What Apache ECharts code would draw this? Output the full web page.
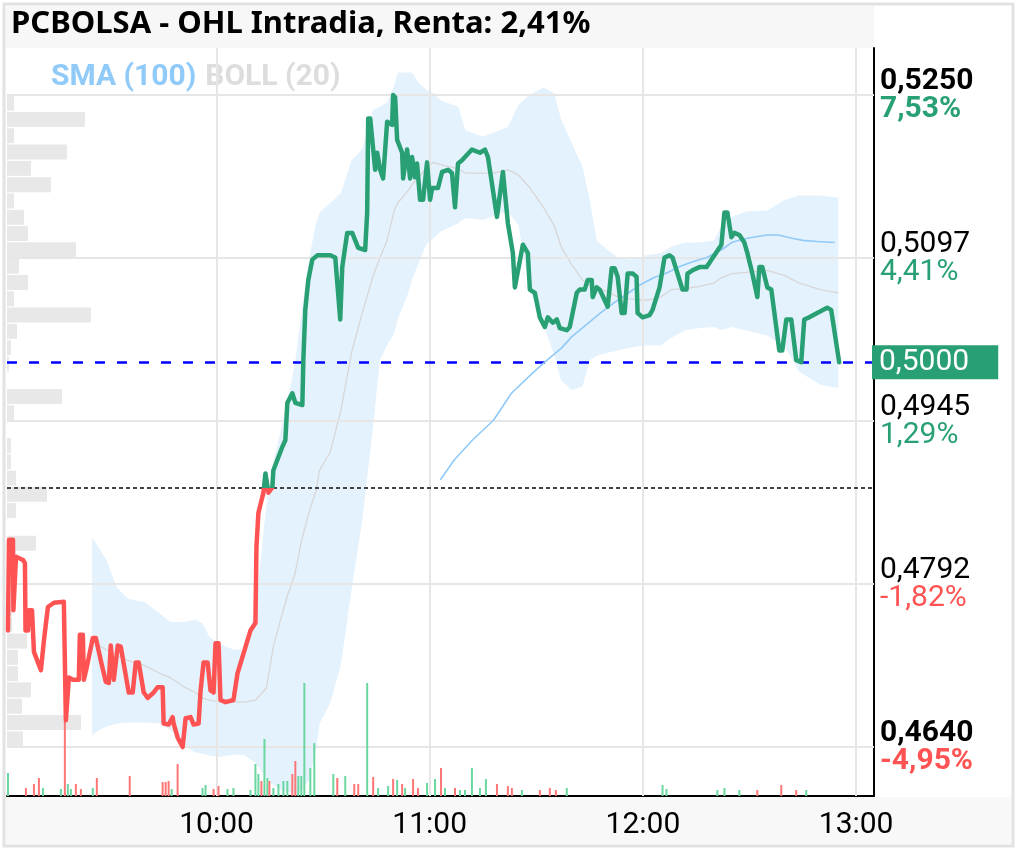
<!DOCTYPE html>
<html>
<head>
<meta charset="utf-8">
<title>PCBOLSA - OHL Intradia</title>
<script src="https://cdn.jsdelivr.net/npm/echarts@6/dist/echarts.min.js"></script>
<style>
html,body{margin:0;padding:0;background:#fff;}
#main{width:1017px;height:851px;}
</style>
</head>
<body>
<div id="main"></div>
<script>
// cotizaciones intradia
const priceTimes = ['09:01:19','09:01:36','09:02:43','09:02:50','09:03:00','09:03:34','09:05:32','09:06:05','09:06:15','09:06:56','09:07:13','09:08:04','09:08:37','09:10:35','09:11:26','09:12:33','09:14:14','09:17:02','09:17:36','09:18:27','09:19:34','09:21:15','09:21:32','09:22:23','09:22:40','09:23:30','09:25:11','09:26:02','09:27:26','09:28:50','09:29:41','09:30:14','09:31:05','09:32:13','09:33:03','09:35:18','09:36:25','09:37:16','09:38:06','09:39:31','09:40:38','09:42:19','09:43:26','09:44:50','09:45:07','09:46:31','09:47:39','09:47:56','09:49:03','09:50:28','09:51:18','09:52:42','09:53:33','09:54:57','09:55:31','09:56:21','09:57:29','09:58:19','09:59:10','09:59:43','10:00:34','10:01:07','10:02:32','10:04:46','10:05:54','10:09:33','10:10:57','10:11:14','10:11:47','10:13:12','10:13:46','10:14:19','10:14:36','10:15:43','10:16:00','10:18:32','10:19:22','10:19:56','10:21:20','10:22:11','10:24:09','10:24:26','10:24:59','10:25:50','10:26:57','10:28:22','10:32:01','10:33:25','10:34:49','10:35:23','10:36:47','10:38:11','10:39:53','10:41:50','10:42:24','10:42:41','10:43:15','10:44:39','10:45:13','10:46:03','10:46:53','10:48:01','10:49:25','10:49:42','10:50:16','10:50:50','10:52:14','10:52:31','10:53:38','10:54:29','10:55:02','10:55:53','10:56:26','10:57:17','10:58:08','10:59:15','11:00:06','11:00:40','11:02:20','11:03:28','11:05:09','11:06:16','11:07:07','11:07:58','11:09:05','11:11:53','11:14:08','11:15:32','11:16:23','11:18:55','11:20:36','11:22:00','11:23:24','11:23:58','11:26:13','11:27:37','11:28:11','11:29:35','11:30:59','11:32:23','11:33:14','11:34:38','11:35:46','11:36:36','11:38:34','11:39:25','11:41:23','11:42:13','11:43:37','11:44:28','11:45:35','11:45:52','11:46:59','11:47:50','11:49:14','11:50:05','11:51:12','11:52:03','11:52:53','11:54:01','11:54:51','11:55:42','11:57:06','11:58:13','11:58:30','11:59:55','12:01:52','12:02:43','12:04:41','12:06:05','12:07:29','12:08:20','12:09:44','12:11:08','12:12:16','12:12:32','12:13:57','12:15:55','12:17:53','12:18:43','12:20:41','12:22:05','12:22:56','12:23:47','12:24:54','12:25:45','12:27:09','12:28:33','12:29:24','12:30:48','12:32:12','12:32:46','12:33:36','12:35:01','12:36:08','12:38:23','12:39:13','12:40:21','12:41:45','12:43:09','12:44:33','12:45:24','12:46:48','12:51:51','12:52:59','12:55:14'];
const prices = [0.4749,0.4834,0.4834,0.4768,0.4768,0.4818,0.4815,0.4812,0.4749,0.4749,
  0.4768,0.4768,0.4729,0.4712,0.4740,0.4771,0.4775,0.4776,0.4665,0.4705,
  0.4703,0.4703,0.4745,0.4745,0.4703,0.4715,0.4742,0.4742,0.4721,0.4701,
  0.4700,0.4735,0.4703,0.4735,0.4734,0.4691,0.4691,0.4719,0.4719,0.4691,
  0.4686,0.4691,0.4696,0.4696,0.4662,0.4661,0.4668,0.4662,0.4649,0.4640,
  0.4667,0.4668,0.4661,0.4662,0.4693,0.4719,0.4719,0.4693,0.4691,0.4737,
  0.4737,0.4684,0.4682,0.4684,0.4709,0.4749,0.4756,0.4827,0.4859,0.4878,
  0.4896,0.4896,0.4878,0.4883,0.4899,0.4921,0.4927,0.4962,0.4971,0.4962,
  0.4960,0.5002,0.5049,0.5077,0.5096,0.5100,0.5100,0.5098,0.5040,0.5089,
  0.5121,0.5121,0.5107,0.5105,0.5140,0.5228,0.5228,0.5180,0.5196,0.5180,
  0.5172,0.5225,0.5222,0.5250,0.5248,0.5208,0.5196,0.5172,0.5199,0.5172,
  0.5192,0.5173,0.5186,0.5152,0.5152,0.5187,0.5152,0.5163,0.5163,0.5178,
  0.5180,0.5177,0.5145,0.5186,0.5189,0.5199,0.5196,0.5199,0.5192,0.5136,
  0.5178,0.5130,0.5102,0.5070,0.5110,0.5102,0.5068,0.5065,0.5042,0.5033,
  0.5042,0.5037,0.5040,0.5032,0.5030,0.5033,0.5065,0.5068,0.5068,0.5077,
  0.5077,0.5061,0.5070,0.5068,0.5058,0.5052,0.5088,0.5088,0.5080,0.5046,
  0.5046,0.5083,0.5083,0.5080,0.5046,0.5042,0.5044,0.5049,0.5070,0.5098,
  0.5100,0.5098,0.5083,0.5068,0.5068,0.5083,0.5086,0.5089,0.5089,0.5093,
  0.5103,0.5110,0.5140,0.5140,0.5117,0.5121,0.5119,0.5112,0.5102,0.5083,
  0.5061,0.5089,0.5089,0.5070,0.5068,0.5011,0.5011,0.5040,0.5040,0.5002,
  0.5000,0.5040,0.5042,0.5051,0.5049,0.5000];

// bandas de Bollinger (20)
const bollTimes = ['09:25','09:27','09:29','09:32','09:35','09:40','09:44','09:47','09:51','09:54',
  '09:56','09:58','10:01','10:05','10:08','10:11','10:14','10:16','10:18','10:20',
  '10:22','10:24','10:26','10:28','10:29','10:32','10:35','10:38','10:41','10:44',
  '10:46','10:48','10:50','10:51','10:54','10:55','10:57','10:59','11:01','11:03',
  '11:08','11:10','11:15','11:18','11:22','11:25','11:28','11:32','11:35','11:37',
  '11:40','11:43','11:45','11:47','11:50','11:53','11:57','12:01','12:05','12:08',
  '12:12','12:16','12:20','12:22','12:25','12:29','12:35','12:40','12:44','12:50','12:55'];
const bollUpper = [0.4836,0.4826,0.4815,0.4789,0.4779,0.4775,0.4765,0.4757,0.4757,0.4759,
  0.4756,0.4743,0.4736,0.4731,0.4731,0.4768,0.4866,0.4907,0.4935,0.4965,
  0.4997,0.5049,0.5096,0.5130,0.5140,0.5149,0.5158,0.5189,0.5199,0.5236,
  0.5239,0.5243,0.5259,0.5271,0.5271,0.5271,0.5261,0.5255,0.5252,0.5245,
  0.5239,0.5217,0.5211,0.5215,0.5220,0.5241,0.5250,0.5257,0.5252,0.5227,
  0.5205,0.5183,0.5152,0.5114,0.5105,0.5098,0.5096,0.5100,0.5102,0.5108,
  0.5112,0.5112,0.5114,0.5127,0.5136,0.5141,0.5142,0.5152,0.5156,0.5156,0.5154];
const bollMid = [0.4740,0.4735,0.4731,0.4726,0.4721,0.4716,0.4709,0.4705,0.4696,0.4691,
  0.4686,0.4684,0.4682,0.4682,0.4682,0.4684,0.4695,0.4734,0.4759,0.4782,
  0.4801,0.4834,0.4859,0.4880,0.4899,0.4916,0.4955,0.5009,0.5046,0.5080,
  0.5098,0.5114,0.5142,0.5149,0.5161,0.5166,0.5173,0.5182,0.5187,0.5185,
  0.5181,0.5177,0.5177,0.5177,0.5180,0.5175,0.5164,0.5145,0.5128,0.5108,
  0.5091,0.5077,0.5072,0.5069,0.5066,0.5061,0.5059,0.5058,0.5061,0.5068,
  0.5069,0.5071,0.5074,0.5079,0.5083,0.5084,0.5086,0.5081,0.5074,0.5068,0.5065];
const bollLower = [0.4651,0.4656,0.4659,0.4662,0.4663,0.4663,0.4662,0.4656,0.4642,0.4635,
  0.4634,0.4632,0.4631,0.4633,0.4632,0.4625,0.4611,0.4604,0.4600,0.4598,
  0.4597,0.4599,0.4609,0.4637,0.4662,0.4681,0.4717,0.4787,0.4852,0.4939,
  0.5002,0.5016,0.5027,0.5040,0.5065,0.5077,0.5094,0.5110,0.5116,0.5122,
  0.5130,0.5135,0.5133,0.5137,0.5141,0.5128,0.5068,0.5035,0.5007,0.4983,
  0.4974,0.4977,0.5002,0.5006,0.5009,0.5011,0.5014,0.5016,0.5016,0.5023,
  0.5030,0.5032,0.5033,0.5030,0.5033,0.5030,0.5025,0.5014,0.4991,0.4979,0.4976];

// media simple (100)
const smaTimes = ['11:03','11:07','11:12','11:18','11:23','11:29','11:33','11:37','11:40','11:44',
  '11:48','11:52','11:56','11:59','12:03','12:07','12:10','12:14','12:18','12:22',
  '12:25','12:28','12:31','12:35','12:38','12:42','12:45','12:49','12:54'];
const smaValues = [0.4890,0.4909,0.4927,0.4946,0.4971,0.4990,0.5002,0.5013,0.5024,0.5035,
  0.5046,0.5056,0.5065,0.5072,0.5079,0.5084,0.5089,0.5094,0.5098,0.5105,
  0.5112,0.5115,0.5117,0.5119,0.5119,0.5116,0.5114,0.5113,0.5112];

// volumen por operacion (1 = alcista, -1 = bajista)
const volTimes = ['09:01:19','09:06:22','09:08:37','09:10:01','09:11:09','09:16:12','09:17:19','09:18:10','09:19:01','09:20:25',
  '09:21:49','09:25:11','09:26:19','09:35:34','09:44:50','09:45:41','09:46:31','09:47:22','09:49:03','09:56:04',
  '09:56:55','09:59:10','10:00:34','10:03:05','10:04:46','10:09:33','10:10:57','10:11:47','10:12:38','10:13:29',
  '10:14:19','10:14:53','10:16:00','10:17:25','10:18:49','10:19:56','10:21:20','10:22:11','10:23:01','10:23:52',
  '10:24:43','10:26:24','10:27:31','10:32:52','10:33:59','10:36:14','10:38:46','10:39:53','10:42:24','10:44:05',
  '10:45:29','10:48:18','10:49:42','10:50:50','10:52:14','10:53:04','10:55:19','10:56:43','10:59:15','11:01:30',
  '11:03:11','11:04:18','11:07:07','11:08:31','11:09:56','11:11:53','11:14:08','11:15:49','11:18:55','11:22:00',
  '11:23:07','11:25:56','11:30:59','11:33:48','11:35:29','11:38:34','12:05:31','12:06:38','12:20:57','12:22:56',
  '12:27:09','12:32:12','12:38:56','12:43:09','12:45:58'];
const volumes = [46000,16000,24000,36000,16000,14000,150000,24000,14000,24000,
  14000,16000,36000,40000,28000,28000,30000,14000,64000,16000,
  22000,14000,20000,14000,16000,12000,64000,44000,30000,114000,
  36000,30000,16000,24000,30000,30000,44000,70000,40000,40000,
  226000,56000,106000,44000,36000,40000,24000,24000,226000,38000,
  16000,20000,34000,32000,24000,16000,34000,16000,26000,34000,
  56000,16000,16000,12000,12000,56000,16000,34000,24000,20000,
  16000,12000,12000,16000,12000,16000,22000,14000,12000,16000,
  12000,12000,22000,12000,12000];
const volSides = [1,-1,-1,-1,1,1,-1,1,1,-1,
  -1,1,-1,-1,-1,-1,-1,1,-1,1,
  1,-1,-1,1,1,1,1,1,-1,1,
  1,-1,1,1,1,1,-1,-1,1,1,
  1,1,1,1,-1,1,-1,-1,1,-1,
  1,1,-1,1,-1,1,-1,-1,1,1,
  -1,1,-1,1,1,1,1,1,-1,-1,
  -1,1,-1,-1,-1,1,1,1,1,1,
  1,-1,-1,-1,1];

// perfil de volumen por tramo de precio (limite inferior del tramo)
const profileBins = ['0,5235','0,5220','0,5204','0,5189','0,5174','0,5159','0,5143','0,5128','0,5113','0,5098',
  '0,5082','0,5067','0,5052','0,5037','0,5021','0,5006','0,4991','0,4976','0,4960','0,4945',
  '0,4930','0,4915','0,4899','0,4884','0,4869','0,4854','0,4838','0,4823','0,4808','0,4793',
  '0,4777','0,4762','0,4747','0,4732','0,4716','0,4701','0,4686','0,4671','0,4655','0,4640'];
const profileVolumes = [140000,1560000,140000,1200000,480000,880000,140000,340000,420000,1380000,
  240000,420000,140000,1680000,200000,80000,40000,0,1100000,140000,
  0,80000,80000,180000,800000,180000,0,580000,60000,0,
  60000,100000,100000,400000,220000,220000,480000,300000,1480000,320000];

// eje de precios
const yTicks = [0.5250, 0.50975, 0.4945, 0.47925, 0.4640];
const yTickLabels = ['0,5250','0,5097','0,4945','0,4792','0,4640'];
const yTickPcts = ['7,53%','4,41%','1,29%','-1,82%','-4,95%'];
const xTicks = ['10:00','11:00','12:00','13:00'];
const lastPrice = 0.5000;
const lastLabel = '0,5000';
const prevClose = 0.48823;

const GREEN = '#28a073';
const RED = '#ff5353';

function toTs(s) {
  const p = s.split(':').map(Number);
  return Date.UTC(1970, 0, 1, p[0], p[1], p[2] || 0);
}

const pricePts = priceTimes.map((t, i) => [toTs(t), prices[i]]);
const lowerPts = bollTimes.map((t, i) => [toTs(t), bollLower[i]]);
const widthPts = bollTimes.map((t, i) => [toTs(t), +(bollUpper[i] - bollLower[i]).toFixed(4)]);
const midPts = bollTimes.map((t, i) => [toTs(t), bollMid[i]]);
const smaPts = smaTimes.map((t, i) => [toTs(t), smaValues[i]]);
const volPts = volTimes.map((t, i) => ({
  value: [toTs(t), volumes[i]],
  itemStyle: { color: volSides[i] > 0 ? '#6ad6a0' : '#ff7676' }
}));

const chart = echarts.init(document.getElementById('main'));

const labelFont = 'Roboto';
const FS = 30;

const tickLines = yTicks.map((v, i) => {
  const bold = (i === 0 || i === yTicks.length - 1);
  const pctKey = yTickPcts[i].charAt(0) === '-' ? 'n' : 'g';
  return {
    yAxis: v,
    label: {
      show: true, position: 'end', distance: 6,
      formatter: '{' + (bold ? 'pb' : 'p') + '|' + yTickLabels[i] + '}\n{' + pctKey + (bold ? 'b' : '') + '|' + yTickPcts[i] + '}'
    }
  };
});

const hourLines = xTicks.map(t => ({
  xAxis: toTs(t),
  label: { show: true, position: 'start', distance: 14, formatter: t, fontFamily: labelFont, fontSize: FS, color: '#000' }
}));

const option = {
  animation: false,
  backgroundColor: '#fff',
  title: {
    text: 'PCBOLSA - OHL Intradia, Renta: 2,41%',
    left: 11,
    top: 9,
    padding: 0,
    textStyle: { fontFamily: 'Noto Sans', fontWeight: 'bold', fontSize: 31, color: '#000' }
  },
  legend: {
    left: 41,
    top: 57,
    icon: 'rect',
    itemWidth: 0,
    itemHeight: 0,
    itemGap: 4,
    selectedMode: false,
    textStyle: { fontFamily: labelFont, fontWeight: 'bold', fontSize: 30 },
    data: [
      { name: 'SMA (100)', textStyle: { color: '#90caf9' } },
      { name: 'BOLL (20)', textStyle: { color: '#dddddd' } }
    ]
  },
  graphic: [
    { type: 'rect', z: -10, shape: { x: 6, y: 6, width: 868, height: 42 }, style: { fill: '#f7f7f7' } },
    { type: 'rect', z: -10, shape: { x: 6, y: 797, width: 1005, height: 47 }, style: { fill: '#f8f8f8' } },
    { type: 'rect', z: -9, shape: { x: 4, y: 4, width: 1009, height: 842 }, style: { fill: 'none', stroke: '#e2e2e2', lineWidth: 3 } }
  ],
  grid: [
    { left: 7, right: 143, top: 48, bottom: 55 },
    { left: 7, width: 867, top: 95, height: 652 }
  ],
  xAxis: [
    {
      type: 'time', gridIndex: 0,
      min: toTs('09:01:19'), max: toTs('13:04:45'),
      axisLine: { show: true, onZero: false, lineStyle: { color: '#000', width: 2 } },
      axisTick: { show: false }, axisLabel: { show: false }, splitLine: { show: false }
    },
    { type: 'value', gridIndex: 1, min: 0, max: 17340000, show: false }
  ],
  yAxis: [
    {
      type: 'value', gridIndex: 0, position: 'right',
      min: 0.45942, max: 0.52940,
      axisLine: { show: true, onZero: false, lineStyle: { color: '#000', width: 2 } },
      axisTick: { show: false }, axisLabel: { show: false }, splitLine: { show: false }
    },
    { type: 'value', gridIndex: 0, min: 0, max: 1496000, show: false },
    { type: 'category', gridIndex: 1, data: profileBins, inverse: true, show: false }
  ],
  series: [
    {
      // soporte para la rejilla y las etiquetas de los ejes
      name: 'rejilla', type: 'scatter', z: 1, silent: true,
      data: [],
      markLine: {
        silent: true, symbol: ['none', 'none'], animation: false, precision: 6,
        lineStyle: { color: '#e6e6e6', width: 2, type: 'solid' },
        label: {
          rich: {
            p: { fontFamily: labelFont, fontSize: FS, color: '#000', lineHeight: 28 },
            pb: { fontFamily: labelFont, fontSize: FS, color: '#000', fontWeight: 'bold', lineHeight: 28 },
            g: { fontFamily: labelFont, fontSize: FS, color: GREEN, lineHeight: 28 },
            gb: { fontFamily: labelFont, fontSize: FS, color: GREEN, fontWeight: 'bold', lineHeight: 28 },
            n: { fontFamily: labelFont, fontSize: FS, color: RED, lineHeight: 28 },
            nb: { fontFamily: labelFont, fontSize: FS, color: RED, fontWeight: 'bold', lineHeight: 28 }
          }
        },
        data: tickLines.concat(hourLines)
      }
    },
    {
      name: 'perfil', type: 'bar', xAxisIndex: 1, yAxisIndex: 2, z: 2, silent: true,
      barWidth: 15, itemStyle: { color: '#e8e8e8' },
      data: profileVolumes
    },
    {
      name: 'BOLL inf', type: 'line', stack: 'boll', z: 3, symbol: 'none', silent: true,
      lineStyle: { opacity: 0 }, data: lowerPts
    },
    {
      name: 'BOLL banda', type: 'line', stack: 'boll', z: 3, symbol: 'none', silent: true,
      lineStyle: { opacity: 0 }, areaStyle: { color: '#e3f2fd', opacity: 1 }, data: widthPts
    },
    {
      name: 'BOLL (20)', type: 'line', z: 4, symbol: 'none', silent: true,
      itemStyle: { color: '#dddddd' },
      lineStyle: { color: '#d9d6d6', width: 1.3 }, data: midPts
    },
    {
      name: 'SMA (100)', type: 'line', z: 5, symbol: 'none', silent: true,
      itemStyle: { color: '#90caf9' },
      lineStyle: { color: '#90caf9', width: 1.6 }, data: smaPts
    },
    {
      name: 'Volumen', type: 'bar', yAxisIndex: 1, z: 6, silent: true,
      barWidth: 2, data: volPts
    },
    {
      // referencias: ultimo precio y cierre anterior
      name: 'referencias', type: 'scatter', z: 7, silent: true,
      data: [],
      markLine: {
        silent: true, symbol: ['none', 'none'], animation: false, precision: 6,
        data: [
          {
            yAxis: lastPrice,
            lineStyle: { color: '#0000ff', width: 2.5, type: [10, 12] },
            label: {
              show: true, position: 'end', distance: -2, formatter: lastLabel,
              fontFamily: labelFont, fontSize: FS, color: '#fff', lineHeight: 30,
              backgroundColor: GREEN, padding: [2, 29, 2, 7]
            }
          },
          {
            yAxis: prevClose,
            lineStyle: { color: '#444', width: 2, type: [4, 3] },
            label: { show: false }
          }
        ]
      }
    },
    {
      name: 'OHL', type: 'line', z: 8, symbol: 'none', silent: true,
      lineStyle: { width: 4.5, join: 'round', cap: 'round' },
      data: pricePts
    }
  ],
  visualMap: {
    type: 'piecewise', show: false, seriesIndex: 8, dimension: 1,
    pieces: [
      { gt: 0.40, lte: prevClose, color: RED },
      { gt: prevClose, lte: 0.60, color: GREEN }
    ],
    outOfRange: { color: GREEN }
  }
};

chart.setOption(option);
</script>
</body>
</html>
